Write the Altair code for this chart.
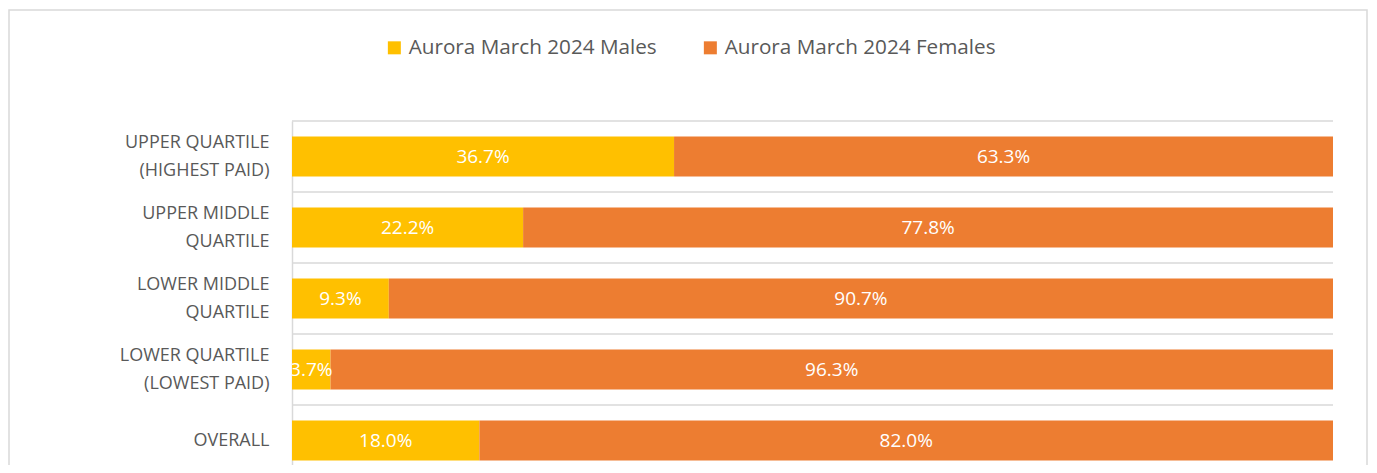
import altair as alt
import pandas as pd

categories = [
    "UPPER QUARTILE|(HIGHEST PAID)",
    "UPPER MIDDLE|QUARTILE",
    "LOWER MIDDLE|QUARTILE",
    "LOWER QUARTILE|(LOWEST PAID)",
    "OVERALL",
]
series = ["Aurora March 2024 Males", "Aurora March 2024 Females"]
males = [36.7, 22.2, 9.3, 3.7, 18.0]
females = [63.3, 77.8, 90.7, 96.3, 82.0]
colors = ["#FFC000", "#ED7D31"]

rows = []
for i, c in enumerate(categories):
    rows.append({"cat": c, "series": series[0], "order": 0, "value": males[i]})
    rows.append({"cat": c, "series": series[1], "order": 1, "value": females[i]})
df = pd.DataFrame(rows)

W, H = 1041, 344
FONT = "Open Sans"

yscale = alt.Scale(domain=categories, range=[0, 355], paddingInner=0.437, paddingOuter=0.2185)
xscale = alt.Scale(domain=[0, 100], nice=False)

base = alt.Chart(df).transform_stack(
    stack="value", groupby=["cat"], as_=["x0", "x1"], sort=[alt.SortField("order")]
).transform_calculate(mid="(datum.x0 + datum.x1) / 2", lab="format(datum.value, '.1f') + '%'")

label_offset = {"condition": {"test": "indexof(datum.label, '|') >= 0", "value": -14}, "value": 0}

bars = base.mark_bar().encode(
    y=alt.Y("cat:N", scale=yscale, sort=categories, title=None,
            axis=alt.Axis(labelExpr="split(datum.label, '|')", labelFont=FONT, labelFontSize=18,
                          labelColor="#595959", labelLineHeight=28, labelPadding=23,
                          labelOffset=label_offset,
                          ticks=False, grid=False, domainColor="#D9D9D9", domainWidth=1.5,
                          labelLimit=300)),
    x=alt.X("x0:Q", scale=xscale, axis=None),
    x2="x1:Q",
    color=alt.Color("series:N", scale=alt.Scale(domain=series, range=colors), sort=series,
                    legend=alt.Legend(title=None, orient="none", direction="horizontal",
                                      legendX=92, legendY=-84, symbolType="square",
                                      symbolSize=169, symbolStrokeWidth=0, labelFont=FONT,
                                      labelFontSize=20.7, labelColor="#595959", labelOffset=4,
                                      columnPadding=43, padding=0, labelLimit=400)),
)

texts = base.mark_text(font=FONT, fontSize=19, color="white", clip=True).encode(
    y=alt.Y("cat:N", scale=yscale, sort=categories),
    x=alt.X("mid:Q", scale=xscale),
    text="lab:N",
)

grid = alt.Chart(pd.DataFrame({"cat": categories})).mark_rule(
    color="#D9D9D9", strokeWidth=1.5
).encode(
    y=alt.Y("cat:N", sort=categories, bandPosition=0, axis=None,
            scale=alt.Scale(domain=categories, range=[0, 355], paddingInner=0, paddingOuter=0)),
    x=alt.value(0), x2=alt.value(W),
)

border = alt.Chart(pd.DataFrame({"k": [0]})).mark_rect(
    fill=None, stroke="#D9D9D9", strokeWidth=1.5, clip=False
).encode(
    x=alt.value(-283), x2=alt.value(1367 - 292),
    y=alt.value(10 - 121), y2=alt.value(400),
)

main = alt.layer(bars, texts)
chart = alt.layer(border, grid, main).resolve_scale(y="independent").properties(
    width=W, height=H,
    autosize=alt.AutoSizeParams(type="none"),
    padding={"left": 284, "top": 113, "right": 36, "bottom": 0},
).configure_view(stroke=None)

chart.save("out.html", embed_options={"renderer": "svg", "actions": False})
